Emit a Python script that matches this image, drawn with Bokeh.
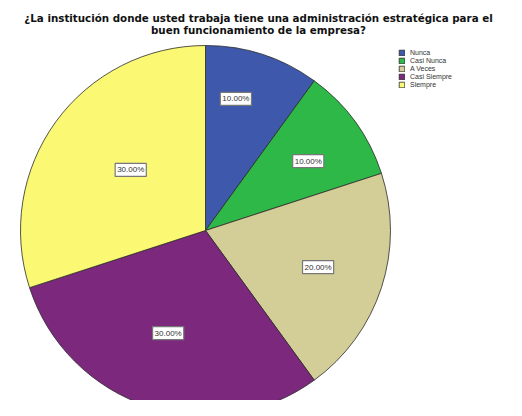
import numpy as np
from bokeh.plotting import figure
from bokeh.models import ColumnDataSource, Range1d
from bokeh.core.properties import value
from bokeh.embed import file_html
from bokeh.resources import INLINE

categories = ["Nunca", "Casi Nunca", "A Veces", "Casi Siempre", "Siempre"]
percents = [10.0, 10.0, 20.0, 30.0, 30.0]
colors = ["#3E58AC", "#2EB848", "#D3CE97", "#7C287D", "#FBF873"]
label_texts = ["10.00%", "10.00%", "20.00%", "30.00%", "30.00%"]
title_lines = ["¿La institución donde usted trabaja tiene una administración estratégica para el",
               "buen funcionamiento de la empresa?"]

# style: radial position of each label as fraction of radius, and angle tweaks (deg)
label_rfrac = [0.73, 0.67, 0.64, 0.59, 0.52]
label_dangle = [-5, 2, 0, 2, 3]

W, H = 506, 400
cx, cy, R = 205, 170, 185

frac = np.array(percents) / sum(percents)
cum = np.concatenate([[0], np.cumsum(frac)])
start = np.pi / 2 - cum[:-1] * 2 * np.pi
end = np.pi / 2 - cum[1:] * 2 * np.pi
mid = (start + end) / 2 - np.radians(label_dangle)
lx = cx + np.array(label_rfrac) * R * np.cos(mid)
ly = cy + np.array(label_rfrac) * R * np.sin(mid)

src = ColumnDataSource(dict(cat=categories, start=start, end=end, color=colors,
                            lx=lx, ly=ly, txt=label_texts))

p = figure(width=W, height=H, output_backend="svg", toolbar_location=None,
           x_range=Range1d(0, W), y_range=Range1d(0, H), min_border=0)
p.axis.visible = False
p.grid.visible = False
p.outline_line_color = None

p.wedge(x=cx, y=cy, radius=R, start_angle="start", end_angle="end", direction="clock",
        fill_color="color", line_color="#2a2a2a", line_width=0.8, legend_field="cat",
        source=src)

p.text(x="lx", y="ly", text="txt", source=src, text_align="center",
       text_baseline="middle", text_font_size="8px", text_color="#333333",
       text_font=value("Liberation Sans"),
       background_fill_color="white", border_line_color="#777777",
       border_line_width=1.2, padding=2)

tsrc = ColumnDataSource(dict(x=[258, 258], y=[383, 371], t=title_lines))
p.text(x="x", y="y", text="t", source=tsrc, text_align="center", text_baseline="middle",
       text_font=value("DejaVu Sans"), text_font_style="bold", text_font_size="10.3px",
       text_color="#111111")

lg = p.legend[0]
lg.location = (398, 312)
lg.label_text_font_size = "7px"
lg.label_text_font = "Liberation Sans"
lg.label_text_color = "#333333"
lg.glyph_width = 7
lg.glyph_height = 7
lg.label_height = 8
lg.spacing = 0
lg.padding = 1
lg.margin = 0
lg.border_line_color = None
lg.background_fill_alpha = 0
lg.label_standoff = 5

open("out.html", "w").write(file_html(p, INLINE))
